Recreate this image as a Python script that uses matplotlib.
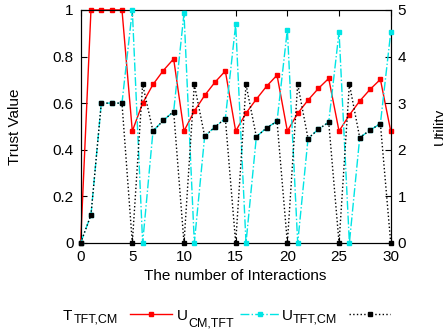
import matplotlib

matplotlib.use("Agg")
import matplotlib.pyplot as plt
from matplotlib.lines import Line2D

plt.rcParams.update(
    {
        "font.family": "Liberation Sans",
        "font.size": 11,
        "xtick.direction": "in",
        "ytick.direction": "in",
    }
)

# ---- data ------------------------------------------------------------------
interactions = list(range(31))
trust_tft_cm = [0, 1, 1, 1, 1, 0.48, 0.60, 0.68, 0.74, 0.79, 0.48, 0.566, 0.633, 0.69, 0.738,
                0.48, 0.557, 0.617, 0.673, 0.72, 0.48, 0.556, 0.613, 0.663, 0.706,
                0.48, 0.549, 0.609, 0.659, 0.702, 0.48]
util_cm_tft = [0, 0.6, 3.0, 3.0, 3.0, 5.0, 0, 2.4, 2.63, 2.82, 4.93, 0, 2.29, 2.49, 2.67,
               4.69, 0, 2.28, 2.47, 2.61, 4.58, 0, 2.24, 2.44, 2.59, 4.53, 0, 2.26, 2.42, 2.56, 4.52]
util_tft_cm = [0, 0.6, 3.0, 3.0, 3.0, 0, 3.4, 2.4, 2.63, 2.82, 0, 3.4, 2.29, 2.49, 2.67,
               0, 3.4, 2.28, 2.47, 2.61, 0, 3.41, 2.24, 2.44, 2.59, 0, 3.41, 2.26, 2.42, 2.56, 0]

RED = "#ff0000"
CYAN = "#00e5e5"
BLACK = "#000000"
W, H = 443, 331

fig = plt.figure(figsize=(4.43, 3.31), dpi=100)
ax = fig.add_axes([0.182, 0.266, 0.700, 0.704])
ax2 = ax.twinx()

styles = [
    (RED, "-"),
    (CYAN, "-."),
    (BLACK, ":"),
]
ax.plot(interactions, trust_tft_cm, color=RED, lw=1.0, marker="s", ms=3.2, clip_on=False, zorder=3)
ax2.plot(interactions, util_cm_tft, color=CYAN, lw=1.0, ls="-.", marker="s", ms=3.2, clip_on=False, zorder=3)
ax2.plot(interactions, util_tft_cm, color=BLACK, lw=1.0, ls=":", marker="s", ms=3.2, clip_on=False, zorder=4)

ax.set_xlim(0, 30)
ax.set_ylim(0, 1)
ax2.set_ylim(0, 5)
ax.set_xticks([0, 5, 10, 15, 20, 25, 30])
ax.set_yticks([0, 0.2, 0.4, 0.6, 0.8, 1.0])
ax.set_yticklabels(["0", "0.2", "0.4", "0.6", "0.8", "1"])
ax2.set_yticks([0, 1, 2, 3, 4, 5])
ax.tick_params(axis="x", top=True, length=4, pad=5)
ax.tick_params(axis="y", length=4, pad=5)
ax2.tick_params(axis="y", length=4, pad=5)

ax.set_xlabel("The number of Interactions", labelpad=4)
ax.set_ylabel("Trust Value", labelpad=22)
# right label sits partly beyond the figure edge, as in the original
ax2.set_ylabel("Utility", labelpad=19)

# ---- gnuplot-style key: label first, then sample -------------------------
key = [
    ("T", "TFT,CM", 63, 323, 130, 172),
    ("U", "CM,TFT", 177, 326, 240, 280),
    ("U", "TFT,CM", 282, 323, 349, 390),
]
for (main, sub, x0, sub_base, l0, l1), (col, ls) in zip(key, styles):
    fig.text(x0 / W, 1 - 319.5 / H, main, fontsize=11, va="baseline", ha="left")
    fig.text((x0 + 11) / W, 1 - sub_base / H, sub, fontsize=9, va="baseline", ha="left")
    fig.add_artist(Line2D([l0 / W, l1 / W], [1 - 314 / H] * 2, color=col, ls=ls, lw=1.0,
                          transform=fig.transFigure))
    fig.add_artist(Line2D([(l0 + l1) / 2 / W], [1 - 314 / H], color=col, marker="s", ms=3.2,
                          transform=fig.transFigure))

fig.savefig("out.png", dpi=100)
